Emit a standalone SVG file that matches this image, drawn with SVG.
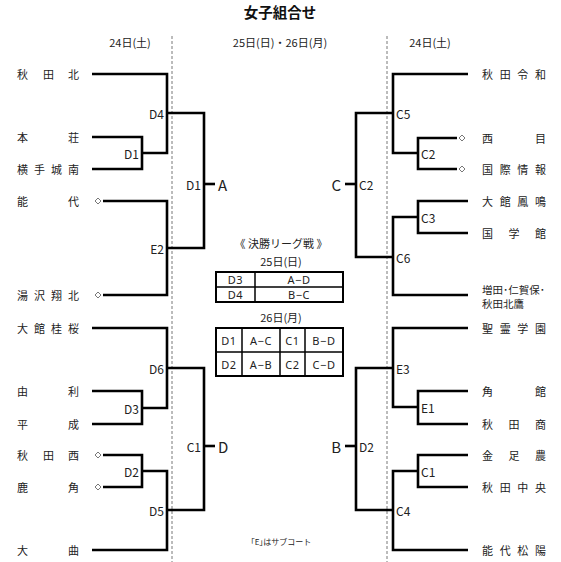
<svg xmlns="http://www.w3.org/2000/svg" width="561" height="562" viewBox="0 0 561 562">
<defs>
<style>
text{font-family:"Noto Sans CJK JP","Noto Sans",sans-serif;fill:#222}
.title{font-size:14.5px;font-weight:bold;fill:#111}
.hdr{font-size:11px}
.nm{font-size:11px;dominant-baseline:central}
.nm2{font-size:10.5px;dominant-baseline:central}
.lb{font-size:12px;dominant-baseline:central}
.big{font-size:15px;dominant-baseline:central}
.tb{font-family:"Noto Sans",sans-serif;font-size:11px;dominant-baseline:central;text-anchor:middle;letter-spacing:0.6px}
.sm{font-size:8px}
.cn{fill:none;stroke:#000;stroke-width:2.6;stroke-linejoin:miter;stroke-linecap:butt}
.dash{stroke:#555;stroke-width:0.8;stroke-dasharray:3 2;fill:none}
.tbl{fill:none;stroke:#000;stroke-width:2}
.tin{stroke:#000;stroke-width:1.5}
</style>
<path id="dm" d="M-3,0 L0,-3 L3,0 L0,3Z" fill="#fff" stroke="#555" stroke-width="0.8"/>
</defs>
<rect width="561" height="562" fill="#fff"/>
<text class="title" x="280" y="18" text-anchor="middle">女子組合せ</text>
<g id="headers">
<text class="hdr" x="130" y="47" text-anchor="middle">24日(土)</text>
<text class="hdr" x="280" y="47" text-anchor="middle">25日(日)・26日(月)</text>
<text class="hdr" x="430" y="47" text-anchor="middle">24日(土)</text>
</g>
<g id="dividers">
<line class="dash" x1="172" y1="36" x2="172" y2="562"/>
<line class="dash" x1="387" y1="36" x2="387" y2="562"/>
</g>
<g id="connectors">
<path class="cn" d="M92,74 H167 V153 H142"/>
<path class="cn" d="M92,137 H142 V169 H92"/>
<path class="cn" d="M167,113 H204 V248 H167"/>
<path class="cn" d="M103,201 H167 V295 H103"/>
<path class="cn" d="M204,184 H215"/>
<path class="cn" d="M92,328 H167 V408 H142"/>
<path class="cn" d="M92,391 H142 V424 H92"/>
<path class="cn" d="M167,368 H204 V510 H167"/>
<path class="cn" d="M103,455 H142 V487 H103"/>
<path class="cn" d="M142,471 H167 V550 H92"/>
<path class="cn" d="M204,446 H215"/>
<path class="cn" d="M468,74 H393 V153 H418"/>
<path class="cn" d="M457,138 H418 V169 H457"/>
<path class="cn" d="M393,113 H356 V257 H393"/>
<path class="cn" d="M468,201 H418 V233 H468"/>
<path class="cn" d="M418,217 H393 V295 H468"/>
<path class="cn" d="M345,184 H356"/>
<path class="cn" d="M468,328 H393 V407 H418"/>
<path class="cn" d="M468,391 H418 V424 H468"/>
<path class="cn" d="M393,368 H356 V510 H393"/>
<path class="cn" d="M468,455 H418 V487 H468"/>
<path class="cn" d="M418,471 H393 V550 H468"/>
<path class="cn" d="M345,446 H356"/>
<use href="#dm" x="98" y="201"/>
<use href="#dm" x="98" y="295"/>
<use href="#dm" x="98" y="455"/>
<use href="#dm" x="98" y="487"/>
<use href="#dm" x="462" y="138"/>
<use href="#dm" x="462" y="169"/>
</g>
<g id="teams-left">
<g id="n-akitakita"><text class="nm" x="17 43 68" y="74">秋田北</text></g>
<g id="n-honjo"><text class="nm" x="17 68" y="137">本荘</text></g>
<g id="n-yokotejonan"><text class="nm" x="17 34 51 68" y="169">横手城南</text></g>
<g id="n-noshiro"><text class="nm" x="17 68" y="201">能代</text></g>
<g id="n-yuzawa"><text class="nm" x="17 34 51 68" y="295">湯沢翔北</text></g>
<g id="n-odatekeio"><text class="nm" x="17 34 51 68" y="328">大館桂桜</text></g>
<g id="n-yuri"><text class="nm" x="17 68" y="391">由利</text></g>
<g id="n-heisei"><text class="nm" x="17 68" y="424">平成</text></g>
<g id="n-akitanishi"><text class="nm" x="17 43 68" y="455">秋田西</text></g>
<g id="n-kazuno"><text class="nm" x="17 68" y="487">鹿角</text></g>
<g id="n-omagari"><text class="nm" x="17 68" y="550">大曲</text></g>
</g>
<g id="teams-right">
<g id="n-reiwa"><text class="nm" x="482 499.7 517.3 535" y="74">秋田令和</text></g>
<g id="n-nishime"><text class="nm" x="482 535" y="138">西目</text></g>
<g id="n-kokusai"><text class="nm" x="482 499.7 517.3 535" y="169">国際情報</text></g>
<g id="n-homei"><text class="nm" x="482 499.7 517.3 535" y="201">大館鳳鳴</text></g>
<g id="n-kokugakukan"><text class="nm" x="482 508.5 535" y="233">国学館</text></g>
<g id="n-masuda"><text class="nm2" x="482" y="289">増田･仁賀保･</text><text class="nm2" x="482" y="303">秋田北鷹</text></g>
<g id="n-seirei"><text class="nm" x="482 499.7 517.3 535" y="328">聖霊学園</text></g>
<g id="n-kakunodate"><text class="nm" x="482 535" y="391">角館</text></g>
<g id="n-akitasho"><text class="nm" x="482 508.5 535" y="424">秋田商</text></g>
<g id="n-kanaashi"><text class="nm" x="482 508.5 535" y="455">金足農</text></g>
<g id="n-akitachuo"><text class="nm" x="482 499.7 517.3 535" y="487">秋田中央</text></g>
<g id="n-noshiroshoyo"><text class="nm" x="482 499.7 517.3 535" y="550">能代松陽</text></g>
</g>
<g id="labels">
<text class="lb" x="139" y="153" text-anchor="end">D1</text>
<text class="lb" x="164" y="113" text-anchor="end">D4</text>
<text class="lb" x="164" y="248" text-anchor="end">E2</text>
<text class="lb" x="201" y="184" text-anchor="end">D1</text>
<text class="big" x="218" y="184">A</text>
<text class="lb" x="164" y="368" text-anchor="end">D6</text>
<text class="lb" x="139" y="408" text-anchor="end">D3</text>
<text class="lb" x="139" y="471" text-anchor="end">D2</text>
<text class="lb" x="164" y="510" text-anchor="end">D5</text>
<text class="lb" x="201" y="446" text-anchor="end">C1</text>
<text class="big" x="218" y="446">D</text>
<text class="lb" x="396" y="113">C5</text>
<text class="lb" x="421" y="153">C2</text>
<text class="lb" x="421" y="217">C3</text>
<text class="lb" x="396" y="257">C6</text>
<text class="lb" x="359" y="184">C2</text>
<text class="big" x="341" y="184" text-anchor="end">C</text>
<text class="lb" x="396" y="368">E3</text>
<text class="lb" x="421" y="407">E1</text>
<text class="lb" x="421" y="471">C1</text>
<text class="lb" x="396" y="510">C4</text>
<text class="lb" x="359" y="446">D2</text>
<text class="big" x="341" y="446" text-anchor="end">B</text>
</g>
<g id="league">
<text class="hdr" x="281" y="248" text-anchor="middle">《 決勝リーグ戦 》</text>
<text class="hdr" x="281" y="266" text-anchor="middle">25日(日)</text>
<rect class="tbl" x="216" y="272" width="127" height="30"/>
<line class="tin" x1="255" y1="272" x2="255" y2="302"/>
<line class="tin" x1="216" y1="287" x2="343" y2="287"/>
<text class="tb" x="235.5" y="279.5">D3</text>
<text class="tb" x="299" y="279.5">A−D</text>
<text class="tb" x="235.5" y="294.5">D4</text>
<text class="tb" x="299" y="294.5">B−C</text>
<text class="hdr" x="281" y="322" text-anchor="middle">26日(月)</text>
<rect class="tbl" x="216" y="328" width="127" height="48"/>
<line class="tin" x1="242" y1="328" x2="242" y2="376"/>
<line class="tin" x1="280" y1="328" x2="280" y2="376"/>
<line class="tin" x1="305" y1="328" x2="305" y2="376"/>
<line class="tin" x1="216" y1="352" x2="343" y2="352"/>
<text class="tb" x="229" y="340">D1</text>
<text class="tb" x="261" y="340">A−C</text>
<text class="tb" x="292.5" y="340">C1</text>
<text class="tb" x="324" y="340">B−D</text>
<text class="tb" x="229" y="364">D2</text>
<text class="tb" x="261" y="364">A−B</text>
<text class="tb" x="292.5" y="364">C2</text>
<text class="tb" x="324" y="364">C−D</text>
</g>
<text class="sm" x="281" y="545" text-anchor="middle">｢E｣はサブコート</text>
</svg>
